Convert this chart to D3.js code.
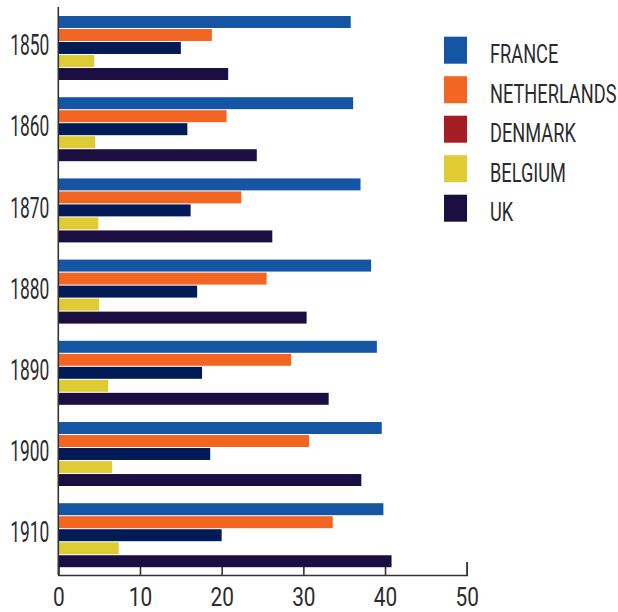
<!DOCTYPE html>
<html>
<head>
<meta charset="utf-8">
<script src="https://cdn.jsdelivr.net/npm/d3@7"></script>
<style>
  html, body { margin: 0; padding: 0; background: #ffffff; }
  svg { display: block; }
  text { font-family: Roboto, "Noto Sans", sans-serif; fill: #2b2b2b; }
</style>
</head>
<body>
<svg id="chart" width="618" height="612"></svg>
<script>
// Shares by year, per country
const years = ["1850", "1860", "1870", "1880", "1890", "1900", "1910"];
const countries = ["FRANCE", "NETHERLANDS", "DENMARK", "BELGIUM", "UK"];
const france      = [35.8, 36.1, 37.0, 38.3, 39.0, 39.6, 39.8];
const netherlands = [18.8, 20.6, 22.4, 25.5, 28.5, 30.7, 33.6];
const denmark     = [15.0, 15.8, 16.2, 17.0, 17.6, 18.6, 20.0];
const belgium     = [4.4, 4.5, 4.9, 5.0, 6.1, 6.6, 7.4];
const uk          = [20.8, 24.3, 26.2, 30.4, 33.1, 37.1, 40.8];
const xTicks = [0, 10, 20, 30, 40, 50];

const legendColors = ["#1455a4", "#f26522", "#a41c24", "#dfcb33", "#1a0f40"];
const barColors    = ["#1455a4", "#f26522", "#001b56", "#dfcb33", "#1a0f40"];

const seriesValues = [france, netherlands, denmark, belgium, uk];
const rows = years.map((yr, i) => ({
  year: yr,
  values: countries.map((c, k) => ({ country: c, k, value: seriesValues[k][i] }))
}));

const svg = d3.select("#chart");

const x = d3.scaleLinear().domain([0, 50]).range([58.3, 466.7]);
const y0 = d3.scaleBand().domain(years).range([8, 573])
  .paddingInner(0.212).paddingOuter(0.085).align(0.58);
const y1 = d3.scaleBand().domain(countries).range([0, y0.bandwidth()]).paddingInner(0.08);

const axisY = 575;

// bottom axis: ticks point up into the plot
const xAxis = svg.append("g")
  .attr("transform", `translate(0,${axisY})`)
  .call(d3.axisBottom(x).tickValues(xTicks).tickSize(-13).tickPadding(12.5));
xAxis.select(".domain").attr("stroke", "#333").attr("stroke-width", 1.6);
xAxis.selectAll(".tick line").attr("stroke", "#333").attr("stroke-width", 1.6);
xAxis.selectAll(".tick text")
  .attr("font-size", 26)
  .attr("font-family", "Roboto, sans-serif")
  .attr("fill", "#2b2b2b")
  .attr("transform", "scale(0.8,1)");

// bars
const groups = svg.append("g").selectAll("g")
  .data(rows).join("g")
  .attr("transform", d => `translate(0,${y0(d.year)})`);

groups.selectAll("rect")
  .data(d => d.values).join("rect")
  .attr("x", x(0))
  .attr("y", d => y1(d.country))
  .attr("width", d => x(d.value) - x(0))
  .attr("height", y1.bandwidth())
  .attr("fill", d => barColors[d.k]);

// left axis line
svg.append("line")
  .attr("x1", x(0)).attr("x2", x(0))
  .attr("y1", 7).attr("y2", axisY)
  .attr("stroke", "#333").attr("stroke-width", 1.6);

// year labels
const yAxis = svg.append("g")
  .attr("transform", `translate(${x(0)},-2)`)
  .call(d3.axisLeft(y0).tickSize(0).tickPadding(0));
yAxis.select(".domain").remove();
yAxis.selectAll(".tick text")
  .attr("x", 0)
  .attr("font-size", 29)
  .attr("font-family", "Roboto, sans-serif")
  .attr("fill", "#2b2b2b")
  .attr("text-anchor", "end")
  .attr("transform", "translate(-9,0) scale(0.6,1)");

// legend
const legend = svg.append("g").selectAll("g")
  .data(countries).join("g")
  .attr("transform", (d, i) => `translate(444,${36.7 + i * 39.5})`);
legend.append("rect")
  .attr("width", 23).attr("height", 27)
  .attr("fill", (d, i) => legendColors[i]);
legend.append("text")
  .attr("transform", "translate(46,26.6) scale(0.7,1)")
  .attr("font-size", 26)
  .text(d => d);
</script>
</body>
</html>
